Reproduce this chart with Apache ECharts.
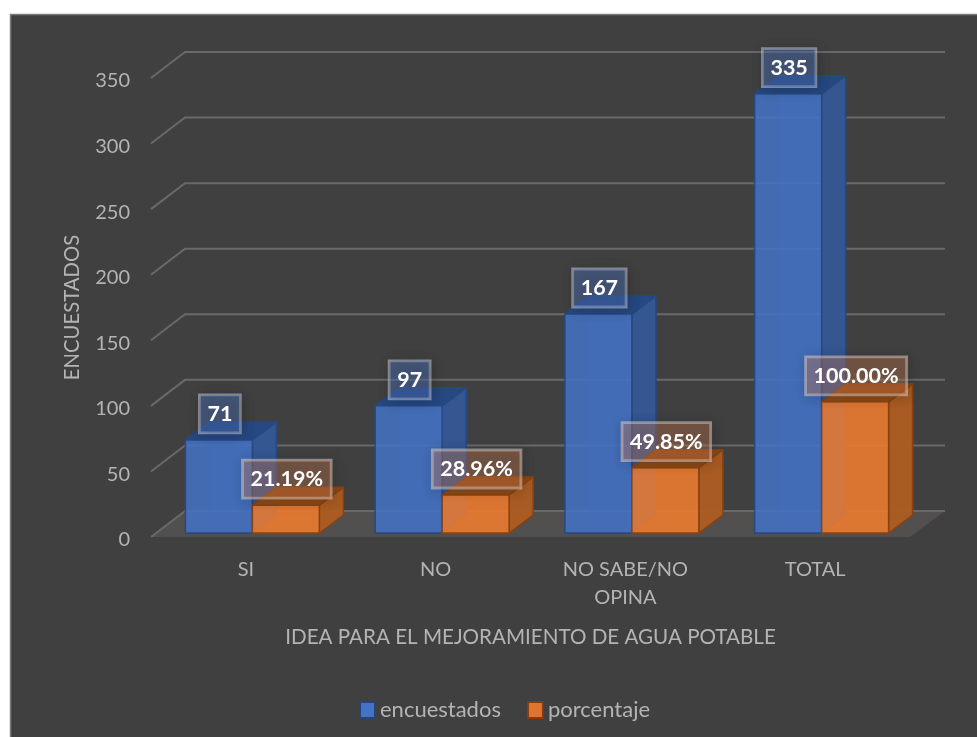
<!DOCTYPE html>
<html>
<head>
<meta charset="utf-8">
<style>html,body{margin:0;padding:0;background:#fff}#c{width:977px;height:737px}</style>
<script src="https://cdn.jsdelivr.net/npm/echarts@6/dist/echarts.min.js"></script>
</head>
<body>
<div id="c"></div>
<script>
var categories = ['SI', 'NO', 'NO SABE/NO\nOPINA', 'TOTAL'];
var encuestados = [71, 97, 167, 335];
var porcentaje = [21.19, 28.96, 49.85, 100];
var yTicks = [0, 50, 100, 150, 200, 250, 300, 350];
var FONT = 'Lato';
var TXT = '#b4b4b4';
var WALL = [34, -26], SHIFT = [6.5, -4], DEPTH = [24, -18];

function pts(a) { return { points: a }; }
function barItem(side, pal, fmt) {
  return function (params, api) {
    var cat = api.value(0), val = api.value(1);
    var b = api.coord([cat, 0]), t = api.coord([cat, val]);
    var w = api.size([1, 0])[0] * 0.353;
    var x0 = b[0] + SHIFT[0] + (side < 0 ? -w : 0), x1 = x0 + w;
    var yb = b[1] + SHIFT[1], yt = t[1] + SHIFT[1];
    var dx = DEPTH[0], dy = DEPTH[1];
    var line = { stroke: pal.edge, lineWidth: 1.5, lineJoin: 'round' };
    function face(a, fill, ghost) {
      return { type: 'polygon', shape: pts(a), style: Object.assign({}, line, { fill: fill, opacity: ghost ? 0.35 : 1 }) };
    }
    var fv = api.value(1);
    return { type: 'group', children: [
      face([[x0, yb], [x1, yb], [x1 + dx, yb + dy], [x0 + dx, yb + dy]], pal.side, true),
      face([[x0 + dx, yb + dy], [x1 + dx, yb + dy], [x1 + dx, yt + dy], [x0 + dx, yt + dy]], pal.side, true),
      face([[x1, yb], [x1 + dx, yb + dy], [x1 + dx, yt + dy], [x1, yt]], pal.side),
      face([[x0, yt], [x1, yt], [x1 + dx, yt + dy], [x0 + dx, yt + dy]], pal.top),
      face([[x0, yb], [x1, yb], [x1, yt], [x0, yt]], pal.front),
      { type: 'text', z2: 50, style: {
          x: (x0 + x1) / 2 + 1, y: yt - 26, text: fmt(fv), align: 'center', verticalAlign: 'middle',
          fontFamily: FONT, fontWeight: 700, fontSize: 21.5, lineHeight: 24, fill: '#fff',
          backgroundColor: pal.box, borderColor: 'rgba(225,225,225,0.5)', borderWidth: 1.4,
          padding: [7, 8, 7, 8], shadowColor: 'rgba(0,0,0,0.4)', shadowBlur: 12, shadowOffsetX: 2, shadowOffsetY: 2
      } }
    ] };
  };
}
var blue = { front: 'rgba(68,114,196,0.86)', side: 'rgba(52,86,148,0.96)', top: 'rgba(38,72,132,0.98)', edge: '#28487f', box: 'rgba(80,118,196,0.42)' };
var orange = { front: 'rgba(237,125,49,0.86)', side: 'rgba(170,92,34,0.97)', top: 'rgba(142,74,22,0.98)', edge: '#8a4310', box: 'rgba(237,140,90,0.30)' };

var chart = echarts.init(document.getElementById('c'), null, { renderer: 'canvas' });
chart.setOption({
  animation: false,
  backgroundColor: '#ffffff',
  textStyle: { fontFamily: FONT },
  graphic: [{ type: 'rect', z: -10, silent: true, shape: { x: 10.5, y: 14.5, width: 980, height: 740 },
    style: { fill: '#404040', stroke: '#7d7d7d', lineWidth: 1.5 } }],
  grid: { left: 151, right: 67, top: 78, bottom: 200, containLabel: false },
  legend: {
    left: 354, top: 694, itemWidth: 15, itemHeight: 16, itemGap: 26,
    textStyle: { color: TXT, fontSize: 22, fontFamily: FONT },
    data: [
      { name: 'encuestados', icon: 'rect', itemStyle: { color: '#4472c4', borderColor: '#264478', borderWidth: 2 } },
      { name: 'porcentaje', icon: 'rect', itemStyle: { color: '#dd7430', borderColor: '#843c0c', borderWidth: 2 } }
    ]
  },
  xAxis: {
    type: 'category', data: categories,
    axisLine: { show: false }, axisTick: { show: false }, splitLine: { show: false },
    axisLabel: { color: TXT, fontSize: 20, fontFamily: FONT, margin: 19, lineHeight: 28, interval: 0 },
    name: 'IDEA PARA EL MEJORAMIENTO DE AGUA POTABLE', nameLocation: 'middle', nameGap: 90,
    nameTextStyle: { color: TXT, fontSize: 20.6, fontFamily: FONT }
  },
  yAxis: {
    type: 'value', min: 0, max: 350, interval: 50,
    axisLine: { show: false }, axisTick: { show: false }, splitLine: { show: false },
    axisLabel: { margin: 21, formatter: '{t|{value}}',
      rich: { t: { color: TXT, fontSize: 20, fontFamily: FONT, padding: [6, 0, 0, 0] } } },
    name: 'ENCUESTADOS', nameLocation: 'middle', nameGap: 69, nameRotate: 90,
    nameTextStyle: { color: TXT, fontSize: 20.3, fontFamily: FONT }
  },
  series: [
    { type: 'custom', name: 'walls', silent: true, z: 1, coordinateSystem: 'cartesian2d',
      data: yTicks.map(function (v) { return [0, v]; }), encode: { x: 0, y: 1 },
      renderItem: function (params, api) {
        var cs = params.coordSys, y = api.coord([0, api.value(1)])[1];
        var l = cs.x, r = cs.x + cs.width;
        var gs = { stroke: '#696969', lineWidth: 2, fill: 'none' };
        var kids = [];
        if (api.value(1) === 0) {
          kids.push({ type: 'polygon', shape: pts([[l, y], [l + WALL[0], y + WALL[1]], [r + WALL[0] + 1, y + WALL[1]], [r, y]]),
            style: { fill: '#524f4f' } });
        }
        kids.push({ type: 'polyline', shape: pts([[l, y], [l + WALL[0], y + WALL[1]], [r + WALL[0] + 1, y + WALL[1]]]), style: gs });
        return { type: 'group', children: kids };
      } },
    { type: 'custom', name: 'encuestados', z: 2, coordinateSystem: 'cartesian2d',
      itemStyle: { color: '#4472c4' },
      data: categories.map(function (c, i) { return [i, encuestados[i]]; }), encode: { x: 0, y: 1 },
      renderItem: barItem(-1, blue, function (v) { return String(v); }) },
    { type: 'custom', name: 'porcentaje', z: 3, coordinateSystem: 'cartesian2d',
      itemStyle: { color: '#dd7430' },
      data: categories.map(function (c, i) { return [i, porcentaje[i]]; }), encode: { x: 0, y: 1 },
      renderItem: barItem(1, orange, function (v) { return v.toFixed(2) + '%'; }) }
  ]
});
</script>
</body>
</html>
